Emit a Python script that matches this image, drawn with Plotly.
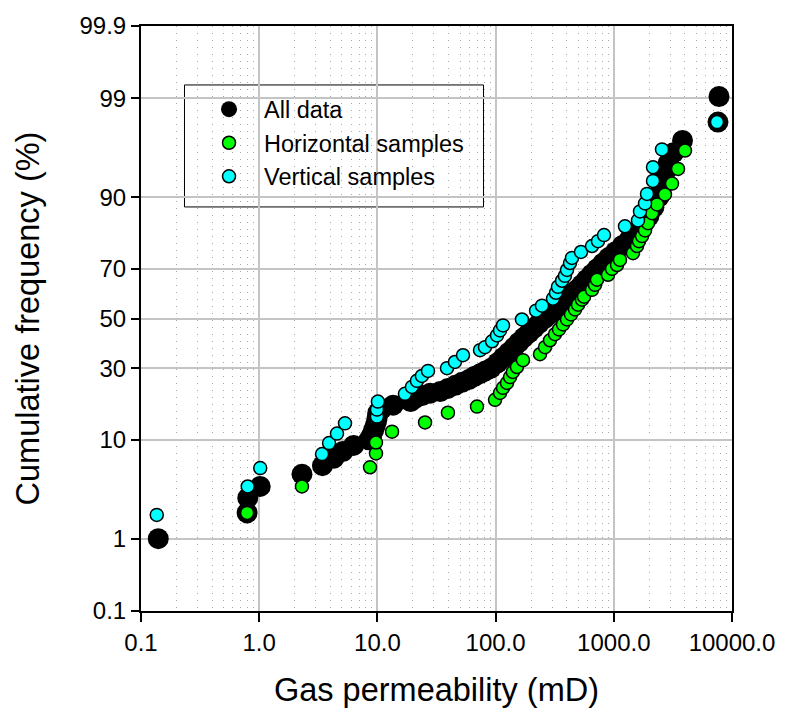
import plotly.graph_objects as go
from statistics import NormalDist

# ---------------- data ----------------
# All data: gas permeability (mD) and cumulative frequency (%)
all_k = [0.14, 0.79, 0.80, 1.02, 2.30, 3.43, 4.29, 5.10, 6.29, 8.47, 9.00, 9.32, 9.62,
         9.86, 10.0, 10.1, 10.9, 13.6, 19.1, 21.0, 23.9, 28.0, 34.0, 39.5, 45.6, 52.0,
         59.7, 66.0, 74.1, 82.0, 91.6, 104,
         116, 129, 143, 157, 173, 192, 212, 234, 260, 291, 324, 361, 399, 441, 489,
         536, 589, 650, 721, 805, 905, 1034, 1183, 1361, 1547, 1776, 1982, 2184, 2407,
         2488, 2577, 2638, 2754, 2891, 3199, 3813, 7612, 7762]
all_f = [1.0, 2.0, 2.9, 3.8, 5, 6, 7, 8, 9, 10, 11, 12, 13,
         14, 15, 16, 17, 18, 19, 20, 20.8, 21.5, 22, 23, 24, 25,
         26, 27, 28, 29, 30, 32,
         34, 36, 38, 40, 42, 44, 46, 48, 50, 52, 54, 56, 58, 60, 62,
         64, 66, 68, 70, 72, 74, 76, 78, 80, 82, 84, 86, 88, 90,
         91, 92, 93, 94, 95, 96, 97, 98.1, 99.05]

# Horizontal samples
hor_k = [0.79, 2.30, 8.66, 9.73, 9.73, 13.3, 25.3, 39.5, 69.6, 98.9, 109, 115.5, 124.9,
         132.4, 140, 151.7, 170.6, 237.5, 262, 288.5, 318, 344, 372, 402, 434.5, 470,
         498, 538, 560, 654, 693, 721, 893, 966, 1065, 1128, 1453, 1572, 1634, 1733,
         1837, 1947, 2105, 2321, 2710, 3108, 3493, 4004, 7612]
hor_f = [2.0, 3.8, 5.8, 7.7, 9.5, 11.6, 13.6, 16.0, 17.6, 19.5, 21.6, 23.2, 24.8,
         26.8, 28.6, 30.4, 33.0, 35.3, 38.1, 40.9, 43.4, 45.4, 47.5, 49.6, 51.7, 53.8,
         55.8, 57.9, 59.1, 61.9, 63.9, 65.9, 67.8, 70.0, 71.4, 73.2, 75.5, 77.8, 79.3, 80.8,
         82.4, 84.3, 86.7, 88.6, 90.5, 92.3, 94.3, 96.2, 98.1]

# Vertical samples
ver_k = [0.136, 0.80, 1.02, 3.40, 3.90, 4.55, 5.32, 9.92, 9.92, 10.1, 17.1, 19.6, 21.6,
         23.8, 26.8, 38.8, 45.3, 53.0, 73.8, 81.3, 93.3, 102.8, 109, 115.5, 167, 220,
         247, 306, 324, 337, 365, 386, 402, 426, 443, 528, 654, 735, 826, 1243, 1602,
         1666, 1837, 1910, 2146, 2146, 2557, 7464]
ver_f = [1.9, 3.8, 5.7, 7.6, 9.4, 11.2, 13.4, 15.0, 16.8, 19.0, 21.3, 23.5, 25.5,
         27.2, 29.0, 30.0, 32.3, 34.9, 36.9, 38.1, 40.5, 42.9, 45.0, 47.1, 49.6, 53.3,
         55.4, 58.3, 60.7, 63.1, 65.5, 67.4, 69.6, 72.1, 73.9, 75.9, 77.8, 79.3, 81.1, 83.5, 85.0,
         87.1, 88.8, 90.6, 92.7, 94.5, 96.3, 98.1]

prob_ticks = [0.1, 1, 10, 30, 50, 70, 90, 99, 99.9]
prob_labels = ["0.1", "1", "10", "30", "50", "70", "90", "99", "99.9"]
x_ticks = [0.1, 1, 10, 100, 1000, 10000]
x_labels = ["0.1", "1.0", "10.0", "100.0", "1000.0", "10000.0"]

# ---------------- normal-probability scale ----------------
nd = NormalDist()


def prob(p_percent):
    return nd.inv_cdf(p_percent / 100.0)


FONT = "Arial, Liberation Sans, sans-serif"

fig = go.Figure()
fig.add_trace(go.Scatter(
    x=all_k, y=[prob(v) for v in all_f], mode="markers", name="All data",
    marker=dict(size=21, color="black", line=dict(width=0)),
))
fig.add_trace(go.Scatter(
    x=hor_k, y=[prob(v) for v in hor_f], mode="markers", name="Horizontal samples",
    marker=dict(size=13, color="#00ff00", line=dict(width=1.5, color="black")),
))
fig.add_trace(go.Scatter(
    x=ver_k, y=[prob(v) for v in ver_f], mode="markers", name="Vertical samples",
    marker=dict(size=13, color="#00ffff", line=dict(width=1.5, color="black")),
))

# legend frame (white box with thin black border, covering the grid)
fig.add_shape(type="rect", xref="paper", yref="paper",
              x0=0.0736, x1=0.5795, y0=0.6907, y1=0.8992,
              fillcolor="white", line=dict(color="black", width=1),
              layer="between")

fig.update_layout(
    width=787, height=727,
    margin=dict(l=141, r=55, t=21, b=116),
    paper_bgcolor="white", plot_bgcolor="white",
    font=dict(family=FONT, color="black", size=24),
    showlegend=True,
    legend=dict(
        x=0.0728, y=0.895, xanchor="left", yanchor="top",
        bgcolor="rgba(0,0,0,0)", borderwidth=0,
        font=dict(size=23.5, family=FONT),
        itemwidth=60, indentation=10,
    ),
    xaxis=dict(
        type="log", range=[-1, 4],
        tickvals=x_ticks, ticktext=x_labels,
        ticks="outside", ticklen=9, tickwidth=1.5, tickcolor="black",
        showline=True, linecolor="black", linewidth=2, mirror=True,
        showgrid=True, gridcolor="#c4c4c4", gridwidth=1.5,
        minor=dict(showgrid=True, gridcolor="#a8a8a8", griddash="1px,6px",
                   gridwidth=1, dtick="D1", ticks=""),
        zeroline=False,
        title=dict(text="Gas permeability (mD)", font=dict(size=32.5, family=FONT), standoff=23),
        tickfont=dict(size=24, family=FONT),
    ),
    yaxis=dict(
        range=[prob(0.1), prob(99.9)],
        tickvals=[prob(v) for v in prob_ticks], ticktext=prob_labels,
        ticks="outside", ticklen=8, tickwidth=1.5, tickcolor="black",
        showline=True, linecolor="black", linewidth=2, mirror=True,
        showgrid=True, gridcolor="#c4c4c4", gridwidth=1.5,
        zeroline=False,
        title=dict(text="Cumulative frequency (%)", font=dict(size=32.5, family=FONT), standoff=30),
        tickfont=dict(size=24, family=FONT),
    ),
)

fig.write_html("out.html")
